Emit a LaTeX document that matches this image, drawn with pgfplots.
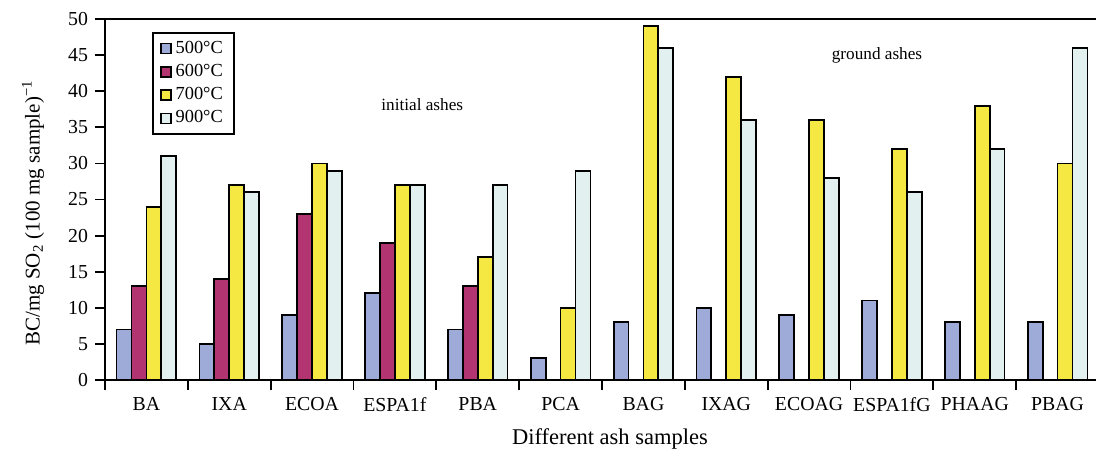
\documentclass[border=0pt]{standalone}
\usepackage{fontspec}
\setmainfont{Liberation Serif}
\usepackage{pgfplots}
\usepackage{pgfplotstable}
\pgfplotsset{compat=1.18}
\definecolor{c500}{RGB}{158,170,215}
\definecolor{c600}{RGB}{178,52,112}
\definecolor{c700}{RGB}{246,232,66}
\definecolor{c900}{RGB}{226,240,239}
\pgfplotstableread{
x t500 t600 t700 t900
0 7 13 24 31
1 5 14 27 26
2 9 23 30 29
3 12 19 27 27
4 7 13 17 27
5 3 nan 10 29
6 8 nan 49 46
7 10 nan 42 36
8 9 nan 36 28
9 11 nan 32 26
10 8 nan 38 32
11 8 nan 30 46
}\datatable
\begin{document}
\begin{tikzpicture}
\begin{axis}[name=ax, scale only axis, width=497pt, height=180.5pt,
  xmin=-0.5, xmax=11.5, ymin=0, ymax=50,
  axis x line*=bottom, axis y line*=left,
  axis line style={line width=0.9pt, -},
  ytick={0,5,...,50},
  xtick={-0.5,0.5,1.5,2.5,3.5,4.5,5.5,6.5,7.5,8.5,9.5,10.5,11.5},
  x tick label as interval,
  xticklabels={BA,IXA,ECOA,ESPA1f,PBA,PCA,BAG,IXAG,ECOAG,ESPA1fG,PHAAG,PBAG},
  tick align=outside, major tick length=5pt,
  tick style={line width=0.9pt, black},
  /pgf/number format/assume math mode=true,
  tick label style={font=\fontsize{9.9}{11}\selectfont},
  xlabel={Different ash samples},
  xlabel style={font=\fontsize{11.25}{13}\selectfont, at={(axis description cs:0.508,-0.18)}, anchor=base},
  ylabel={BC/mg SO\textsubscript{2} (100 mg sample)\textsuperscript{\char"2212 1}},
  ylabel style={font=\fontsize{10.5}{12}\selectfont, at={(axis description cs:-0.0724,0.4626)}, anchor=center},
  ybar, bar width=0.18,
  every axis plot/.append style={draw=black, line width=0.9pt},
  legend cell align=left,
  legend image code/.code={\draw[#1, line width=0.8pt] (0pt,-2.5pt) rectangle (5pt,2.5pt);},
  legend style={at={(axis description cs:0.0473,0.964)}, anchor=north west, draw=black, line width=1pt,
    font=\fontsize{9.2}{10}\selectfont, inner xsep=3.5pt, inner ysep=2pt, row sep=0pt},
]
\addplot[fill=c500, bar shift=-0.27] table[x=x,y=t500] {\datatable};
\addplot[fill=c600, bar shift=-0.09] table[x=x,y=t600] {\datatable};
\addplot[fill=c700, bar shift=0.09] table[x=x,y=t700] {\datatable};
\addplot[fill=c900, bar shift=0.27] table[x=x,y=t900] {\datatable};
\legend{500°C,600°C,700°C,900°C}
\node[font=\fontsize{8.6}{10}\selectfont] at (axis cs:3.33,38.2) {initial ashes};
\node[font=\fontsize{8.6}{10}\selectfont] at (axis cs:8.82,45) {ground ashes};
\end{axis}
\draw[line width=0.9pt] (ax.north west) -- (ax.north east);
\pgfresetboundingbox
\useasboundingbox (ax.south west) ++(-52.5pt,-37pt) rectangle ++(548pt,227pt);
\end{tikzpicture}
\end{document}
